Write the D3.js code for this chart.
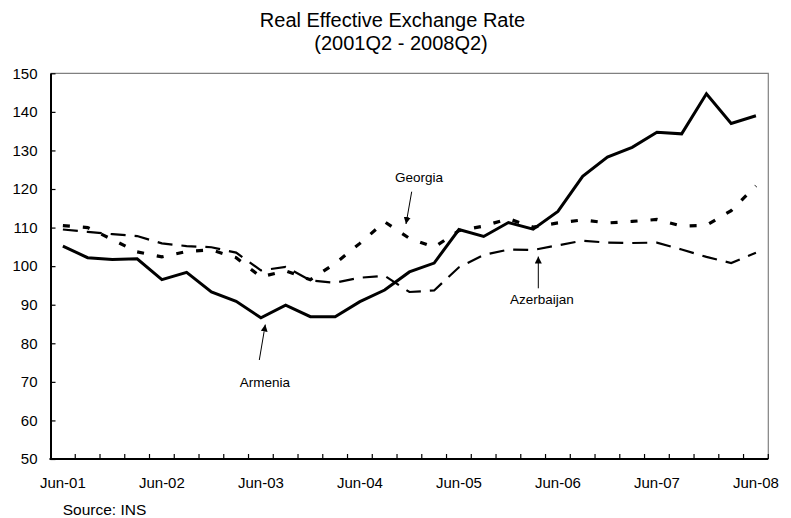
<!DOCTYPE html>
<html>
<head>
<meta charset="utf-8">
<script src="https://cdn.jsdelivr.net/npm/d3@7"></script>
<style>
  html, body { margin: 0; padding: 0; background: #fff; }
  svg { display: block; font-family: "Liberation Sans", Arial, Helvetica, sans-serif; }
</style>
</head>
<body>
<svg id="chart" width="791" height="518"></svg>
<script>
const categories = ["Jun-01","Sep-01","Dec-01","Mar-02","Jun-02","Sep-02","Dec-02","Mar-03",
  "Jun-03","Sep-03","Dec-03","Mar-04","Jun-04","Sep-04","Dec-04","Mar-05",
  "Jun-05","Sep-05","Dec-05","Mar-06","Jun-06","Sep-06","Dec-06","Mar-07",
  "Jun-07","Sep-07","Dec-07","Mar-08","Jun-08"];
const xTickLabels = ["Jun-01","Jun-02","Jun-03","Jun-04","Jun-05","Jun-06","Jun-07","Jun-08"];
const yTicks = [50, 60, 70, 80, 90, 100, 110, 120, 130, 140, 150];

const armenia = [105.2,102.2,101.7,101.9,96.5,98.4,93.3,90.9,86.6,89.9,86.9,86.9,90.8,93.8,98.5,100.8,
  109.5,107.7,111.3,109.6,114.2,123.3,128.3,130.8,134.7,134.3,144.7,137.0,139.0];
const georgia = [110.5,110.0,106.9,103.7,102.4,103.8,104.2,102.2,97.2,98.8,96.5,100.7,105.9,111.5,107.2,104.9,
  109.2,110.4,112.3,110.1,111.2,112.0,111.2,111.6,112.1,110.4,110.6,114.4,120.8];
const azerbaijan = [109.5,108.9,108.3,107.8,105.9,105.2,104.9,103.5,98.9,99.8,96.3,95.7,97.0,97.5,93.3,93.7,
  99.7,102.9,104.3,104.2,105.4,106.6,106.1,106.0,106.1,104.3,102.4,100.8,103.5];

const titleLines = ["Real Effective Exchange Rate", "(2001Q2 - 2008Q2)"];
const sourceText = "Source: INS";

const svg = d3.select("#chart");
const L = 50.5, R = 768.3, T = 73.3, B = 459;

const x = d3.scaleBand().domain(categories).range([L, R]).padding(0);
const y = d3.scaleLinear().domain([50, 150]).range([B, T]);
const cx = c => x(c) + x.bandwidth() / 2;

// Plot border (top/right gray)
svg.append("path")
  .attr("d", `M${L},${T}H${R}V${B}`)
  .attr("fill", "none").attr("stroke", "#808080").attr("stroke-width", 1.2);

// Title
svg.append("text").attr("x", 392.5).attr("y", 27).attr("text-anchor", "middle")
  .attr("font-size", 20).attr("fill", "#000").text(titleLines[0]);
svg.append("text").attr("x", 401).attr("y", 50).attr("text-anchor", "middle")
  .attr("font-size", 20).attr("fill", "#000").text(titleLines[1]);

// Y axis
const yAxis = svg.append("g").attr("transform", `translate(${L},0)`)
  .call(d3.axisLeft(y).tickValues(yTicks).tickSizeInner(-5).tickSizeOuter(0).tickPadding(13));
yAxis.select(".domain").attr("stroke", "#000").attr("stroke-width", 2);
yAxis.selectAll(".tick line").attr("stroke", "#000").attr("stroke-width", 1.2);
yAxis.selectAll(".tick text").attr("font-size", 15).attr("fill", "#000")
  .attr("font-family", "'Liberation Sans', Arial, sans-serif");

// X axis (labels at Jun categories, tick marks at category boundaries)
const xAxis = svg.append("g").attr("transform", `translate(0,${B})`)
  .call(d3.axisBottom(x).tickValues(xTickLabels).tickSize(0).tickPadding(18.6));
xAxis.select(".domain").remove();
xAxis.selectAll(".tick text").attr("font-size", 15).attr("fill", "#000")
  .attr("font-family", "'Liberation Sans', Arial, sans-serif");

const boundaries = categories.slice(1).map(c => x(c)).concat([x.range()[1]]);
svg.append("g").selectAll("line").data(boundaries).join("line")
  .attr("x1", d => d).attr("x2", d => d).attr("y1", B).attr("y2", B - 5)
  .attr("stroke", "#000").attr("stroke-width", 1.2);
svg.append("line").attr("x1", L - 1).attr("x2", R).attr("y1", B).attr("y2", B)
  .attr("stroke", "#000").attr("stroke-width", 2);

// Lines
const line = d3.line().x((d, i) => cx(categories[i])).y(d => y(d));
svg.append("path").datum(azerbaijan).attr("d", line)
  .attr("fill", "none").attr("stroke", "#000").attr("stroke-width", 2.2)
  .attr("stroke-dasharray", "15,9");
svg.append("path").datum(georgia).attr("d", line)
  .attr("fill", "none").attr("stroke", "#000").attr("stroke-width", 3.2)
  .attr("stroke-dasharray", "7,13");
svg.append("path").datum(armenia).attr("d", line)
  .attr("fill", "none").attr("stroke", "#000").attr("stroke-width", 3)
  .attr("stroke-linejoin", "miter");

// Arrow marker
svg.append("defs").append("marker")
  .attr("id", "ah").attr("viewBox", "0 0 10 10").attr("refX", 10).attr("refY", 5)
  .attr("markerWidth", 7).attr("markerHeight", 7).attr("markerUnits", "userSpaceOnUse")
  .attr("orient", "auto")
  .append("path").attr("d", "M0,0L10,5L0,10Z").attr("fill", "#000");

const annotations = [
  { text: "Georgia", tx: 419, ty: 181.7, x1: 411.7, y1: 191.7, x2: 406, y2: 224 },
  { text: "Armenia", tx: 265, ty: 386.7, x1: 259.3, y1: 360, x2: 265.3, y2: 324.5 },
  { text: "Azerbaijan", tx: 542, ty: 304.3, x1: 538.3, y1: 288.3, x2: 538.3, y2: 256.5 }
];
annotations.forEach(a => {
  svg.append("line").attr("x1", a.x1).attr("y1", a.y1).attr("x2", a.x2).attr("y2", a.y2)
    .attr("stroke", "#000").attr("stroke-width", 1).attr("marker-end", "url(#ah)");
  svg.append("text").attr("x", a.tx).attr("y", a.ty).attr("text-anchor", "middle")
    .attr("font-size", 13.5).attr("fill", "#000").text(a.text);
});

// Source
svg.append("text").attr("x", 62.7).attr("y", 515).attr("font-size", 15.5)
  .attr("fill", "#000").text(sourceText);
</script>
</body>
</html>
